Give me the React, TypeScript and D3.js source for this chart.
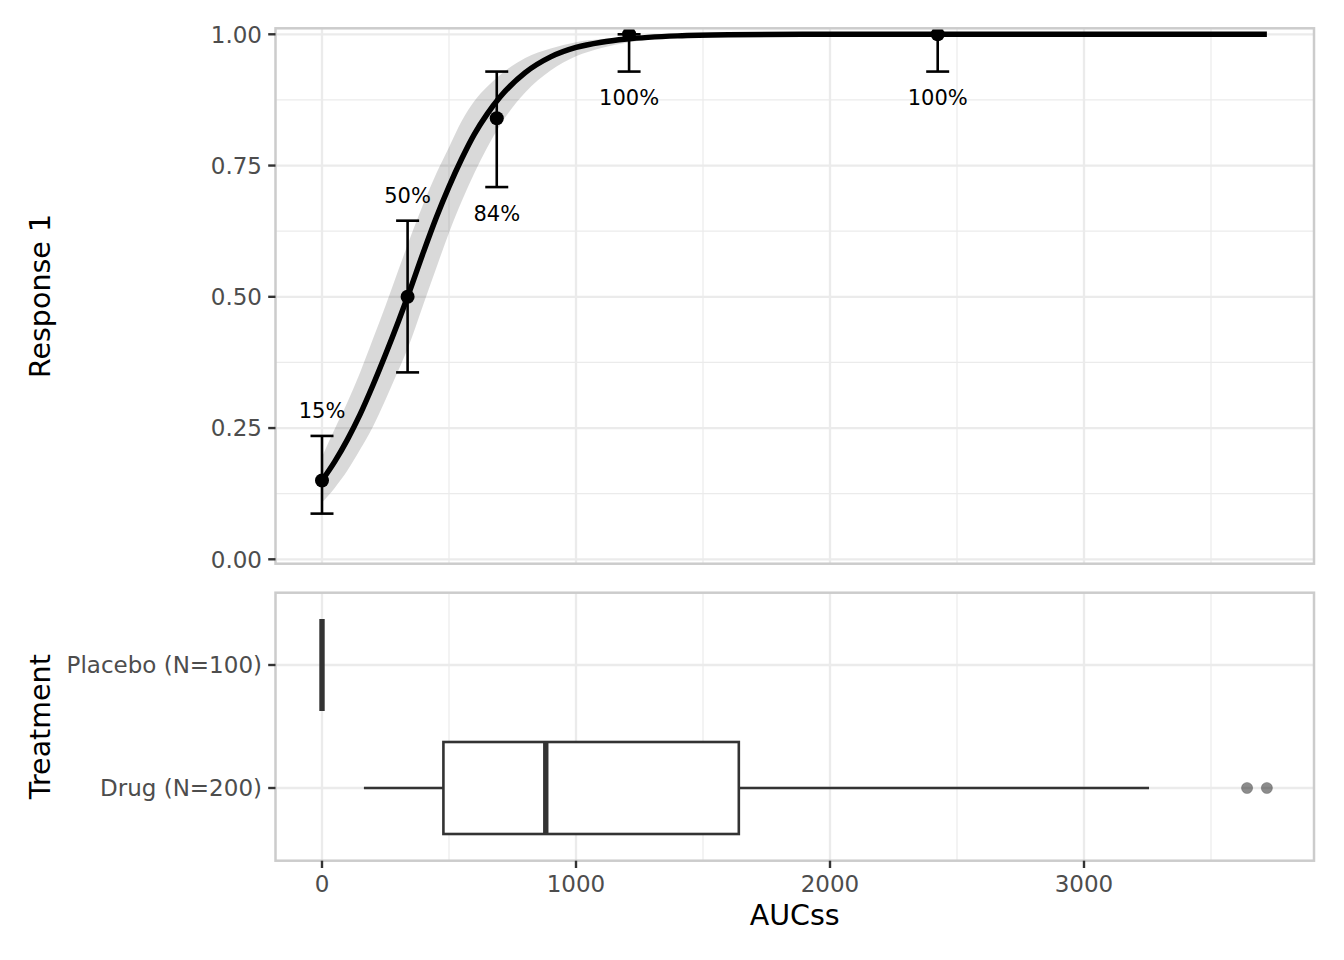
import * as d3 from "d3";
import React from "react";

// observed response by exposure bin
const binAuc = [0, 337, 688, 1209, 2424];
const binRate = [0.15, 0.5, 0.84, 1.0, 1.0];
const binLower = [0.087, 0.356, 0.709, 0.929, 0.929];
const binUpper = [0.235, 0.645, 0.929, 1.0, 1.0];

// fitted curve and its confidence band
const fitAuc = [0, 50, 100, 150, 200, 250, 300, 337, 400, 450, 500, 550, 600, 650, 700, 800, 900, 1000, 1100, 1200, 1400, 1600, 2000, 3720];
const fitProb = [0.15, 0.186, 0.228, 0.276, 0.331, 0.39, 0.452, 0.5, 0.586, 0.651, 0.71, 0.763, 0.81, 0.848, 0.88, 0.927, 0.957, 0.975, 0.985, 0.991, 0.997, 0.999, 1.0, 1.0];
const fitLower = [0.108, 0.136, 0.169, 0.209, 0.252, 0.304, 0.359, 0.401, 0.487, 0.555, 0.622, 0.682, 0.736, 0.784, 0.826, 0.889, 0.931, 0.958, 0.974, 0.984, 0.994, 0.998, 0.9998, 1.0];
const fitUpper = [0.195, 0.248, 0.299, 0.356, 0.419, 0.483, 0.55, 0.599, 0.678, 0.735, 0.785, 0.835, 0.873, 0.9, 0.922, 0.955, 0.973, 0.985, 0.991, 0.995, 0.999, 1.0, 1.0, 1.0];

// exposure distribution by treatment
const groups = ["Placebo (N=100)", "Drug (N=200)"];
const boxLow = [0, 165];
const boxQ1 = [0, 478];
const boxMedian = [0, 881];
const boxQ3 = [0, 1641];
const boxHigh = [0, 3256];
const boxOutliers = [[], [3642, 3720]];

const xTicks = [0, 1000, 2000, 3000];
const xMinor = [500, 1500, 2500, 3500];
const yTicks = [0, 0.25, 0.5, 0.75, 1];
const yMinor = [0.125, 0.375, 0.625, 0.875];

const W = 1344;
const H = 960;
const LEFT = 275.5;
const RIGHT = 1314;
const TOP = { y0: 28.3, y1: 563.7 };
const BOT = { y0: 592.7, y1: 860.7 };
const FONT = "DejaVu Sans, Verdana, sans-serif";
const GRID = "#EBEBEB";
const BORDER = "#CCCCCC";

const x = d3.scaleLinear().domain([0, 3000]).range([322, 1084]);
const y = d3.scaleLinear().domain([0, 1]).range([559.3, 34.3]);
const yGroup = d3.scalePoint<string>().domain(groups).range([665, 788]);
const boxH = 92;

const App: React.FC = () => {
  const fit = fitAuc.map((a, i) => ({ a, p: fitProb[i], lo: fitLower[i], hi: fitUpper[i] }));

  const line = d3
    .line<{ a: number; p: number }>()
    .x((d) => x(d.a))
    .y((d) => y(d.p))
    .curve(d3.curveMonotoneX);

  const band = d3
    .area<{ a: number; lo: number; hi: number }>()
    .x((d) => x(d.a))
    .y0((d) => y(d.lo))
    .y1((d) => y(d.hi))
    .curve(d3.curveMonotoneX);

  const vGrid = (y0: number, y1: number) => (
    <g>
      {xMinor.map((t) => (
        <line key={"m" + t} x1={x(t)} x2={x(t)} y1={y0} y2={y1} stroke={GRID} strokeWidth={1.2} />
      ))}
      {xTicks.map((t) => (
        <line key={"M" + t} x1={x(t)} x2={x(t)} y1={y0} y2={y1} stroke={GRID} strokeWidth={2.3} />
      ))}
    </g>
  );

  const capHalf = 11.5;

  return (
    <>
      <style>{`body{margin:0}`}</style>
      <svg width={W} height={H} style={{ display: "block", background: "#fff" }} fontFamily={FONT}>
        {/* top panel */}
        <rect x={LEFT} y={TOP.y0} width={RIGHT - LEFT} height={TOP.y1 - TOP.y0} fill="#fff" />
        {yMinor.map((t) => (
          <line key={"ym" + t} x1={LEFT} x2={RIGHT} y1={y(t)} y2={y(t)} stroke={GRID} strokeWidth={1.2} />
        ))}
        {yTicks.map((t) => (
          <line key={"yM" + t} x1={LEFT} x2={RIGHT} y1={y(t)} y2={y(t)} stroke={GRID} strokeWidth={2.3} />
        ))}
        {vGrid(TOP.y0, TOP.y1)}

        <path d={band(fit) ?? ""} fill="#000" fillOpacity={0.15} />
        <path d={line(fit) ?? ""} fill="none" stroke="#000" strokeWidth={5.5} />

        {binAuc.map((a, i) => {
          const cx = x(a);
          const below = binUpper[i] > 0.9;
          const ly = below ? y(binLower[i]) + 26 : y(binUpper[i]) - 25;
          return (
            <g key={"bin" + i}>
              <line x1={cx} x2={cx} y1={y(binLower[i])} y2={y(binUpper[i])} stroke="#000" strokeWidth={2.6} />
              <line x1={cx - capHalf} x2={cx + capHalf} y1={y(binLower[i])} y2={y(binLower[i])} stroke="#000" strokeWidth={2.6} />
              <line x1={cx - capHalf} x2={cx + capHalf} y1={y(binUpper[i])} y2={y(binUpper[i])} stroke="#000" strokeWidth={2.6} />
              <circle cx={cx} cy={y(binRate[i])} r={7} fill="#000" />
              <text x={cx} y={ly} dy="0.36em" textAnchor="middle" fontSize={21} fill="#000">
                {`${Math.round(binRate[i] * 100)}%`}
              </text>
            </g>
          );
        })}

        <rect x={LEFT} y={TOP.y0} width={RIGHT - LEFT} height={TOP.y1 - TOP.y0} fill="none" stroke={BORDER} strokeWidth={2.5} />

        {yTicks.map((t) => (
          <g key={"yt" + t}>
            <line x1={LEFT - 7.3} x2={LEFT} y1={y(t)} y2={y(t)} stroke="#333" strokeWidth={2.4} />
            <text x={LEFT - 13.5} y={y(t)} dy="0.36em" textAnchor="end" fontSize={23} fill="#4D4D4D">
              {d3.format(".2f")(t)}
            </text>
          </g>
        ))}
        <text
          transform={`translate(50,${(TOP.y0 + TOP.y1) / 2}) rotate(-90)`}
          textAnchor="middle"
          fontSize={28.5}
          fill="#000"
        >
          Response 1
        </text>

        {/* bottom panel */}
        <rect x={LEFT} y={BOT.y0} width={RIGHT - LEFT} height={BOT.y1 - BOT.y0} fill="#fff" />
        {groups.map((g) => (
          <line key={"gg" + g} x1={LEFT} x2={RIGHT} y1={yGroup(g)} y2={yGroup(g)} stroke={GRID} strokeWidth={2.3} />
        ))}
        {vGrid(BOT.y0, BOT.y1)}

        {groups.map((g, i) => {
          const cy = yGroup(g) as number;
          return (
            <g key={"box" + g}>
              <line x1={x(boxLow[i])} x2={x(boxQ1[i])} y1={cy} y2={cy} stroke="#333" strokeWidth={2.6} />
              <line x1={x(boxQ3[i])} x2={x(boxHigh[i])} y1={cy} y2={cy} stroke="#333" strokeWidth={2.6} />
              <rect
                x={x(boxQ1[i])}
                y={cy - boxH / 2}
                width={x(boxQ3[i]) - x(boxQ1[i])}
                height={boxH}
                fill="#fff"
                stroke="#333"
                strokeWidth={2.6}
              />
              <line x1={x(boxMedian[i])} x2={x(boxMedian[i])} y1={cy - boxH / 2} y2={cy + boxH / 2} stroke="#333" strokeWidth={5.4} />
              {boxOutliers[i].map((o, j) => (
                <circle key={j} cx={x(o)} cy={cy} r={5.6} fill="#000" fillOpacity={0.45} stroke="#000" strokeOpacity={0.2} strokeWidth={1} />
              ))}
            </g>
          );
        })}

        <rect x={LEFT} y={BOT.y0} width={RIGHT - LEFT} height={BOT.y1 - BOT.y0} fill="none" stroke={BORDER} strokeWidth={2.5} />

        {groups.map((g) => (
          <g key={"gt" + g}>
            <line x1={LEFT - 7.3} x2={LEFT} y1={yGroup(g)} y2={yGroup(g)} stroke="#333" strokeWidth={2.4} />
            <text x={LEFT - 13.5} y={yGroup(g)} dy="0.36em" textAnchor="end" fontSize={23} fill="#4D4D4D">
              {g}
            </text>
          </g>
        ))}
        {xTicks.map((t) => (
          <g key={"xt" + t}>
            <line x1={x(t)} x2={x(t)} y1={BOT.y1} y2={BOT.y1 + 7.3} stroke="#333" strokeWidth={2.4} />
            <text x={x(t)} y={892} textAnchor="middle" fontSize={23} fill="#4D4D4D">
              {t}
            </text>
          </g>
        ))}
        <text
          transform={`translate(50,${(BOT.y0 + BOT.y1) / 2}) rotate(-90)`}
          textAnchor="middle"
          fontSize={28.5}
          fill="#000"
        >
          Treatment
        </text>
        <text x={(LEFT + RIGHT) / 2} y={925} textAnchor="middle" fontSize={28.5} fill="#000">
          AUCss
        </text>
      </svg>
    </>
  );
};

export default App;
